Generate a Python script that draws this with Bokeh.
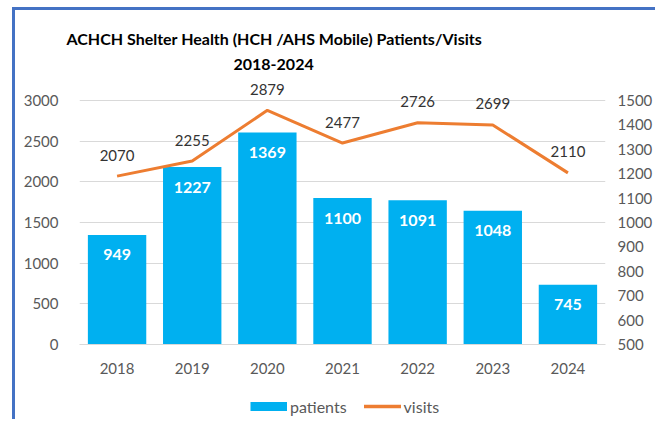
from bokeh.plotting import figure
from bokeh.layouts import column
from bokeh.models import (FactorRange, Range1d, LinearAxis, FixedTicker, ColumnDataSource,
                          Legend, LegendItem, Title)
from bokeh.core.properties import value
from bokeh.embed import file_html
from bokeh.resources import INLINE

years = ["2018", "2019", "2020", "2021", "2022", "2023", "2024"]
patients = [949, 1227, 1369, 1100, 1091, 1048, 745]
visits = [2070, 2255, 2879, 2477, 2726, 2699, 2110]
left_ticks = [0, 500, 1000, 1500, 2000, 2500, 3000]
right_ticks = [500, 600, 700, 800, 900, 1000, 1100, 1200, 1300, 1400, 1500]
title_line1 = "ACHCH Shelter Health (HCH /AHS Mobile) Patients/Visits"
title_line2 = "2018-2024"

FONT = "Lato"
BAR = "#00B0F0"
LINE = "#ED7D31"
GRID = "#D9D9D9"
TICK = "#595959"

src = ColumnDataSource(dict(
    year=years, patients=patients, visits=visits,
    plabel=[str(v) for v in patients], vlabel=[str(v) for v in visits],
))

p = figure(x_range=FactorRange(*years), y_range=Range1d(0, 3270),
           width=640, height=375, output_backend="svg", toolbar_location=None,
           title=title_line1,
           min_border_left=64, min_border_right=47, min_border_top=68, min_border_bottom=41)
p.extra_y_ranges = {"pat": Range1d(500, 1590)}
p.outline_line_color = None

# outer title line (p.title) and inner title line (added, nearest the frame)
p.title.align = "left"
p.title.offset = -13
p.title.standoff = 0
p.title.text_font = FONT
p.title.text_font_size = "16px"
p.title.text_font_style = "bold"
p.title.text_color = "black"
p.add_layout(Title(text=title_line2, align="left", offset=154, standoff=18,
                   text_font=FONT, text_font_size="16px", text_font_style="bold",
                   text_color="black"), "above")

# axes
for ax in p.yaxis:
    ax.ticker = FixedTicker(ticks=left_ticks)
ax_r = LinearAxis(y_range_name="pat", ticker=FixedTicker(ticks=right_ticks))
p.add_layout(ax_r, "right")

for ax in list(p.yaxis) + [ax_r]:
    ax.axis_line_color = None
    ax.major_tick_line_color = None
    ax.minor_tick_line_color = None
    ax.major_label_text_font = FONT
    ax.major_label_text_font_size = "15px"
    ax.major_label_text_color = TICK
p.yaxis[0].major_label_standoff = 15
ax_r.major_label_standoff = 6

p.xaxis.axis_line_color = GRID
p.xaxis.major_tick_line_color = None
p.xaxis.minor_tick_line_color = None
p.xaxis.major_label_text_font = FONT
p.xaxis.major_label_text_font_size = "15px"
p.xaxis.major_label_text_color = TICK
p.xaxis.major_label_standoff = 12

p.xgrid.grid_line_color = None
p.ygrid.ticker = FixedTicker(ticks=left_ticks)
p.ygrid.grid_line_color = GRID

bars = p.vbar(x="year", top="patients", bottom=500, width=0.777, source=src,
              y_range_name="pat", fill_color=BAR, line_color=None)
ln = p.line(x="year", y="visits", source=src, line_color=LINE, line_width=3)

p.text(x="year", y="visits", text="vlabel", source=src, text_align="center",
       text_baseline="middle", y_offset=-21, text_font=value(FONT),
       text_font_size="15px", text_color="#333333")
p.text(x="year", y="patients", text="plabel", source=src, y_range_name="pat",
       text_align="center", text_baseline="middle", y_offset=20,
       text_font=value(FONT), text_font_size="16px", text_font_style="bold",
       text_color="white")

# legend strip below the chart
lf = figure(width=640, height=34, output_backend="svg", toolbar_location=None,
            x_axis_location=None, y_axis_location=None,
            x_range=Range1d(0, 1), y_range=Range1d(0, 1),
            min_border=0, min_border_left=0, min_border_right=0,
            min_border_top=0, min_border_bottom=0)
lf.title.visible = False
lf.outline_line_color = None
lf.xgrid.visible = False
lf.ygrid.visible = False
nan = float("nan")
proxy_bar = lf.line(x=[nan], y=[nan], line_color=BAR, line_width=9, line_cap="butt")
proxy_line = lf.line(x=[nan], y=[nan], line_color=LINE, line_width=3.5, line_cap="round")
legend = Legend(items=[LegendItem(label="patients", renderers=[proxy_bar]),
                       LegendItem(label="visits", renderers=[proxy_line])],
                orientation="horizontal", location=(171, 3),
                glyph_width=37, spacing=17, label_standoff=3,
                label_text_font=FONT, label_text_font_size="16px",
                label_text_color=TICK, border_line_color=None,
                background_fill_alpha=0, padding=2, margin=0)
lf.add_layout(legend, "center")

layout = column(p, lf, spacing=0,
                styles={"margin-left": "12px", "margin-top": "7px",
                        "border-left": "3px solid #4472C4",
                        "border-top": "3px solid #4472C4"})

open("out.html", "w").write(file_html(layout, INLINE))
